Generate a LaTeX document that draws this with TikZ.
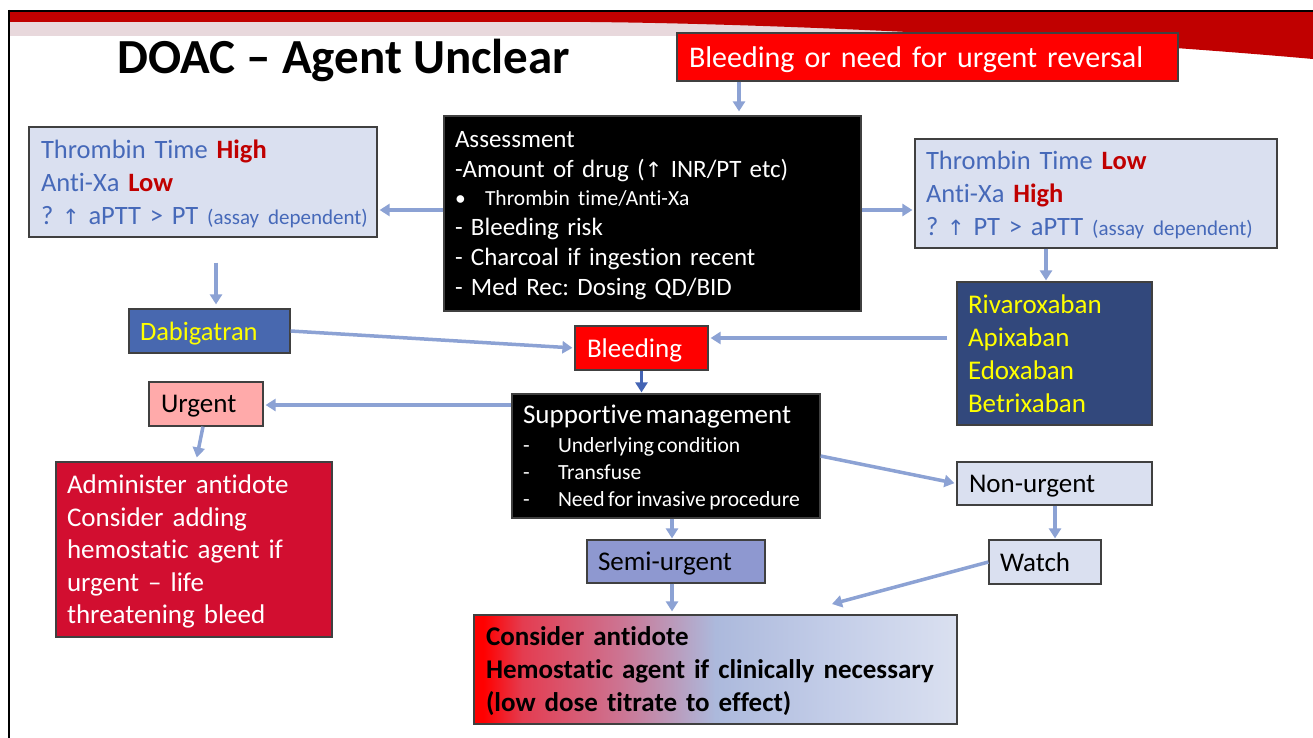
\documentclass[tikz,border=0pt]{standalone}
\usepackage{fontspec}
\setmainfont{Carlito}[Ligatures={NoCommon}]
\newfontfamily\symf{DejaVu Sans}
\usetikzlibrary{arrows.meta,calc}
\frenchspacing
\definecolor{bannerred}{RGB}{192,0,0}
\definecolor{bandpink}{RGB}{232,216,220}
\definecolor{pred}{RGB}{255,0,0}
\definecolor{lblue}{RGB}{218,224,240}
\definecolor{tblue}{RGB}{70,105,185}
\definecolor{dred}{RGB}{192,0,0}
\definecolor{dabblue}{RGB}{72,104,175}
\definecolor{rivablue}{RGB}{50,72,124}
\definecolor{upink}{RGB}{255,170,170}
\definecolor{crimson}{RGB}{210,14,48}
\definecolor{semic}{RGB}{142,152,208}
\definecolor{arrowc}{RGB}{140,162,212}
\definecolor{darkarr}{RGB}{68,100,180}
\definecolor{yel}{RGB}{255,255,0}
\definecolor{ga}{RGB}{228,60,80}
\definecolor{gb}{RGB}{205,115,145}
\definecolor{gc}{RGB}{172,185,220}
\definecolor{gd}{RGB}{195,205,232}
\pgfdeclarehorizontalshading{finalshade}{100bp}{color(0bp)=(pred); color(25bp)=(pred); color(26bp)=(pred); color(30bp)=(ga); color(40bp)=(gb); color(50bp)=(gc); color(62bp)=(gd); color(75bp)=(lblue); color(100bp)=(lblue)}
\tikzset{
  box/.style={draw=black!75, line width=1.2pt, rectangle, align=left, inner ysep=1pt, anchor=center,
    execute at end node={\par\kern-\prevdepth}},
  arr/.style={draw=arrowc, line width=3.5pt, -{Triangle[width=12pt,length=10pt]}, shorten >=2pt},
}
\begin{document}
\begin{tikzpicture}[x=1pt,y=-1pt]
\useasboundingbox (0,0) rectangle (1313,738);
\fill[white] (0,0) rectangle (1313,738);
% banner
\fill[bandpink] (10,22) rectangle (1060,36);
\fill[bannerred] (10,12) -- (1313,12) -- (1313,59) .. controls (1100,40) and (800,24) .. (590,22) -- (10,22) -- cycle;
\draw[black, line width=2.5pt] (8,11) -- (1313,11);
\draw[black, line width=2.5pt] (9,10) -- (9,738);
% title
\node[anchor=base west, inner sep=0, font=\fontsize{49}{59}\selectfont\bfseries] (title) at (117,74) {DOAC – Agent Unclear};
% boxes
\node[box, fill=pred, text=white, minimum height=48pt, text width=477pt, inner xsep=12pt, font=\fontsize{30}{36}\selectfont] (top) at (927.5,57) {Bleeding or need for urgent reversal};
\node[box, fill=black, text=white, minimum height=195pt, text width=395pt, inner xsep=11pt, font=\fontsize{25}{30}\selectfont] (assess) at (652.5,213.5) {Assessment\par
-Amount of drug ({\symf\fontsize{21}{30}\selectfont ↑} INR/PT etc)\par
{\fontsize{21.5}{28}\selectfont\makebox[30pt][l]{•}Thrombin time/Anti-Xa\par}
- Bleeding risk\par
- Charcoal if ingestion recent\par
- Med Rec: Dosing QD/BID};
\node[box, fill=lblue, text=tblue, minimum height=110pt, text width=324pt, inner xsep=12pt, font=\fontsize{26.5}{33}\selectfont] (leftbox) at (203,182) {Thrombin Time \textbf{\color{dred}High}\\
Anti-Xa \textbf{\color{dred}Low}\\
\mbox{? {\symf\fontsize{21}{33}\selectfont ↑} aPTT > PT {\fontsize{21}{26}\selectfont (assay dependent)}}};
\node[box, fill=lblue, text=tblue, minimum height=109pt, text width=340pt, inner xsep=11pt, font=\fontsize{26.5}{33}\selectfont] (rightbox) at (1096,193.5) {Thrombin Time \textbf{\color{dred}Low}\\
Anti-Xa \textbf{\color{dred}High}\\
\mbox{? {\symf\fontsize{21}{33}\selectfont ↑} PT > aPTT {\fontsize{21}{26}\selectfont (assay dependent)}}};
\node[box, fill=dabblue, text=yel, minimum height=44pt, text width=139pt, inner xsep=11pt, font=\fontsize{26.5}{32}\selectfont] (dabi) at (209.5,331) {Dabigatran};
\node[box, fill=rivablue, text=yel, minimum height=143pt, text width=173pt, inner xsep=11pt, font=\fontsize{27}{33}\selectfont] (riva) at (1054.5,353.5) {Rivaroxaban\\ Apixaban\\ Edoxaban\\ Betrixaban};
\node[box, fill=pred, text=white, minimum height=44pt, text width=109pt, inner xsep=12pt, font=\fontsize{27}{33}\selectfont] (bleed) at (641.5,348) {Bleeding};
\node[box, fill=upink, text=black, minimum height=44pt, text width=90pt, inner xsep=12pt, font=\fontsize{27}{33}\selectfont] (urgent) at (206,404) {Urgent};
\node[box, fill=black, text=white, minimum height=124pt, text width=286pt, inner xsep=11pt] (support) at (666,456) {{\fontsize{27}{33}\selectfont Supportive management\par}
{\fontsize{21.6}{29}\selectfont\makebox[35pt][l]{-}Underlying condition\par}
{\fontsize{21.6}{27}\selectfont\makebox[35pt][l]{-}Transfuse\par
\makebox[35pt][l]{-}Need for invasive procedure\par}};
\node[box, fill=crimson, text=white, minimum height=175pt, text width=254pt, inner xsep=11pt, font=\fontsize{27}{32.5}\selectfont] (admin) at (194,549.5) {Administer antidote\\ Consider adding\\ hemostatic agent if\\ urgent – life\\ threatening bleed};
\node[box, fill=lblue, text=black, minimum height=43pt, text width=171pt, inner xsep=12pt, font=\fontsize{27}{33}\selectfont] (nonurg) at (1054.5,483.5) {Non-urgent};
\node[box, fill=lblue, text=black, minimum height=44pt, text width=90pt, inner xsep=11pt, font=\fontsize{27}{33}\selectfont] (watch) at (1045,562) {Watch};
\node[box, fill=semic, text=black, minimum height=43pt, text width=156pt, inner xsep=11pt, font=\fontsize{27}{33}\selectfont] (semi) at (676,561.5) {Semi-urgent};
\node[box, shade, shading=finalshade, text=black, minimum height=109pt, text width=459pt, inner xsep=12pt, font=\fontsize{27}{33}\selectfont\bfseries] (final) at (715.5,669.5) {Consider antidote\\ Hemostatic agent if clinically necessary\\ (low dose titrate to effect)};
% helper coordinates
\coordinate (x739) at (739,0);
\coordinate (yA) at (0,210);
\coordinate (x216) at (216,0);
\coordinate (x1046) at (1046,0);
\coordinate (y338) at (0,338);
\coordinate (y405) at (0,405);
\coordinate (x672) at (672,0);
\coordinate (x1055) at (1055,0);
\coordinate (wend) at (832,604);
% connectors
\draw[arr, shorten >=4pt] (top.south -| x739) -- (assess.north -| x739);
\draw[arr] (assess.west |- yA) -- (leftbox.east |- yA);
\draw[arr] (assess.east |- yA) -- (rightbox.west |- yA);
\draw[arr, shorten <=25pt, shorten >=4pt] (leftbox.south -| x216) -- (dabi.north -| x216);
\draw[arr, shorten >=1pt] (rightbox.south -| x1046) -- (riva.north -| x1046);
\draw[arr] (dabi.east) -- (bleed.west);
\draw[arr, shorten <=9pt] (riva.west |- y338) -- (bleed.east |- y338);
\draw[arr, draw=darkarr, shorten >=1pt] (bleed.south) -- (bleed.south |- support.north);
\draw[arr] (support.west |- y405) -- (urgent.east |- y405);
\draw[arr, shorten >=4pt] ([xshift=-3pt]urgent.south) -- ([xshift=2pt]admin.north);
\draw[arr] (support.east) -- (nonurg.west);
\draw[arr, shorten >=1pt] (support.south -| x672) -- (semi.north -| x672);
\draw[arr, shorten >=3pt] (semi.south -| x672) -- (final.north -| x672);
\draw[arr, shorten >=1pt] (nonurg.south -| x1055) -- (watch.north -| x1055);
\draw[arr, shorten >=0pt] (watch.west) -- (wend);
\end{tikzpicture}
\end{document}
